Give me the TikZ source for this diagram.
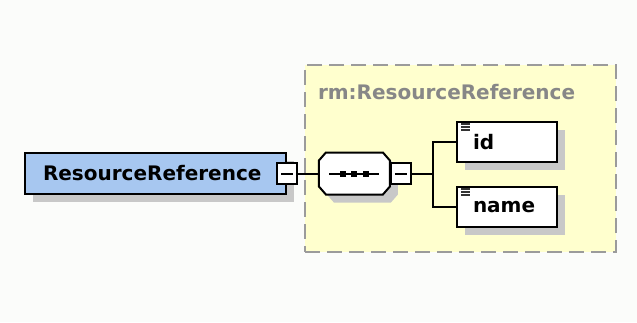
\documentclass[tikz,border=0pt]{standalone}
\usepackage{fontspec}
\setmainfont{DejaVu Sans}
\usetikzlibrary{shadows, positioning}

\definecolor{elemblue}{RGB}{167,199,240}
\definecolor{groupyellow}{RGB}{255,255,206}
\definecolor{groupgray}{RGB}{155,155,155}
\definecolor{labelgray}{RGB}{135,135,135}
\definecolor{shadowgray}{RGB}{200,200,200}
\definecolor{paper}{RGB}{251,252,250}

% octagon round a node, corners cut by 7pt and 8pt
\newcommand{\octpath}[1]{([xshift=7pt]#1.north west) -- ([xshift=-7pt]#1.north east) -- ([yshift=-8pt]#1.north east)
  -- ([yshift=8pt]#1.south east) -- ([xshift=-7pt]#1.south east) -- ([xshift=7pt]#1.south west)
  -- ([yshift=8pt]#1.south west) -- ([yshift=-8pt]#1.north west) -- cycle}

\begin{document}
\begin{tikzpicture}[x=1pt, y=1pt, line width=2pt, font=\fontsize{20}{24}\selectfont\bfseries]

  % Define styles
  \tikzstyle{boxshadow} = [general shadow={fill=shadowgray, shadow xshift=8pt, shadow yshift=-8pt}]
  \tikzstyle{element} = [rectangle, draw=black, fill=elemblue, minimum width=261pt, minimum height=41pt, inner xsep=18pt, inner ysep=0pt, text width=225pt, align=left, boxshadow]
  \tikzstyle{collapse} = [rectangle, draw=black, fill=white, line width=1.8pt, minimum width=20pt, minimum height=21pt, inner sep=0pt,
    path picture={\draw[line width=2pt] ([xshift=4pt]path picture bounding box.west) -- ([xshift=-4pt]path picture bounding box.east);}]
  \tikzstyle{sequence} = [rectangle, minimum width=69pt, minimum height=40pt, inner sep=0pt]
  \tikzstyle{leaf} = [rectangle, draw=black, fill=white, minimum width=100pt, minimum height=40pt, inner xsep=16pt, inner ysep=0pt, text width=68pt, align=left, boxshadow]
  \tikzstyle{group} = [rectangle, draw=groupgray, fill=groupyellow, line width=2pt, dash pattern=on 15pt off 7pt, minimum width=311pt, minimum height=187pt]
  \tikzstyle{grouplabel} = [text=labelgray, inner sep=0pt, anchor=west]

  \fill[paper] (0,0) rectangle (637,322);
  \useasboundingbox (0,0) rectangle (637,322);

  % Place nodes
  \node [group] (group) at (460.5,163.5) {};
  \node [grouplabel] (grouplabel) at ([xshift=13pt, yshift=-28pt]group.north west) {rm:ResourceReference};
  \node [element] (main) at (155.5,148.5) {ResourceReference};
  \node [collapse] (maincollapse) at (main.east) {};
  \node [sequence, right=21pt of maincollapse] (seq) {};
  \fill[shadowgray, transform canvas={shift={(8pt,-8pt)}}] \octpath{seq};
  \draw[fill=white] \octpath{seq};
  \node [collapse, right=0pt of seq] (seqcollapse) {};
  \coordinate [right=21pt of seqcollapse] (fork);
  \node [leaf] (id) at (507,180) {id};
  \node [leaf] (name) at (507,115) {name};

  % sequence mark and leaf icons
  \draw (seq.center) +(-25,0) -- +(25,0);
  \foreach \dx in {-11.5,0,11.5}
    \fill (seq.center) ++(\dx-3,-3) rectangle ++(6,6);
  \foreach \leafname in {id,name}
    \foreach \dy in {3,6,9}
      \draw[line width=1.4pt, black!80] ([xshift=5pt, yshift=-\dy pt]\leafname.north west) -- +(9,0);

  % Draw edges
  \draw (maincollapse) -- (seq);
  \draw (seqcollapse) -- (fork);
  \draw (fork) |- (id);
  \draw (fork) |- (name);

\end{tikzpicture}
\end{document}
